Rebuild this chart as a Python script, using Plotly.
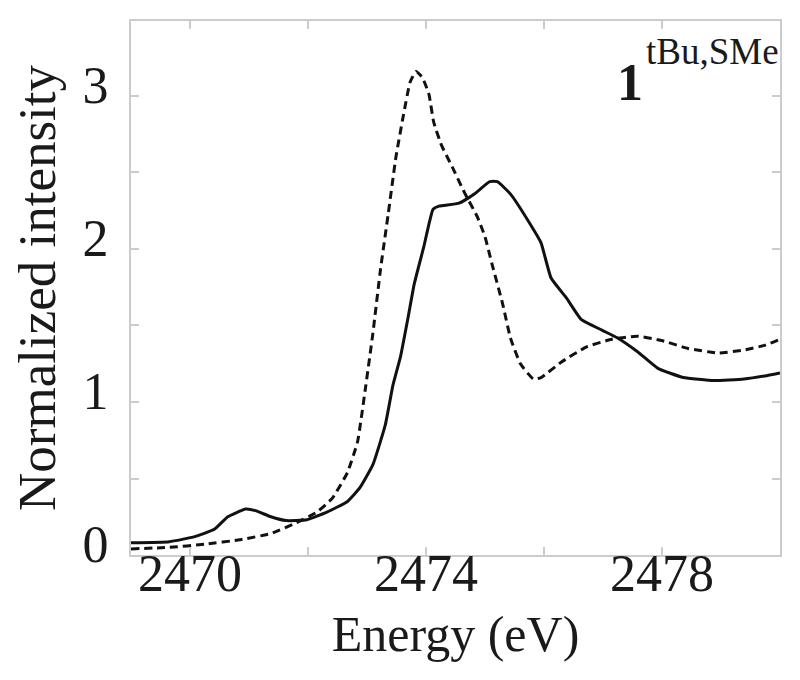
import plotly.graph_objects as go

# Solid curve (energy in eV, normalized intensity)
solid_x = [2469.0, 2469.65, 2470.08, 2470.42, 2470.64, 2470.94, 2471.11, 2471.37, 2471.63, 2471.98,
           2472.32, 2472.67, 2472.88, 2473.1, 2473.31, 2473.44, 2473.57, 2473.70, 2473.8, 2473.96,
           2474.12, 2474.22, 2474.56, 2474.82, 2475.08, 2475.21, 2475.43, 2475.77, 2475.95, 2476.12,
           2476.38, 2476.63, 2476.98, 2477.24, 2477.58, 2477.93, 2478.36, 2478.88, 2479.39, 2479.74, 2480.0]
solid_y = [0.08, 0.087, 0.12, 0.17, 0.25, 0.30, 0.29, 0.25, 0.225, 0.23,
           0.28, 0.35, 0.44, 0.59, 0.85, 1.11, 1.30, 1.56, 1.77, 2.01,
           2.26, 2.28, 2.30, 2.36, 2.44, 2.44, 2.36, 2.16, 2.04, 1.81,
           1.68, 1.54, 1.47, 1.42, 1.33, 1.22, 1.16, 1.14, 1.15, 1.17, 1.19]

# Dashed curve
dash_x = [2469.0, 2469.65, 2470.25, 2470.85, 2471.37, 2471.8, 2472.15, 2472.41, 2472.67, 2472.84,
          2472.97, 2473.1, 2473.23, 2473.36, 2473.49, 2473.62, 2473.73, 2473.83, 2473.94, 2474.05,
          2474.13, 2474.26, 2474.44, 2474.65, 2474.87, 2475.0, 2475.12, 2475.3, 2475.43, 2475.6,
          2475.82, 2475.95, 2476.29, 2476.72, 2477.15, 2477.58, 2478.01, 2478.44, 2478.96, 2479.39,
          2479.74, 2480.0]
dash_y = [0.04, 0.05, 0.07, 0.10, 0.14, 0.21, 0.28, 0.37, 0.54, 0.74,
          1.08, 1.45, 1.87, 2.23, 2.60, 2.88, 3.09, 3.16, 3.12, 3.01,
          2.83, 2.68, 2.54, 2.37, 2.21, 2.08, 1.90, 1.64, 1.42, 1.25,
          1.15, 1.16, 1.26, 1.36, 1.41, 1.43, 1.40, 1.35, 1.32, 1.34,
          1.37, 1.41]

x_tickvals = [2470, 2474, 2478]
x_ticktext = ["2470", "2474", "2478"]
y_tickvals = [0, 1, 2, 3]
y_ticktext = ["0", "1", "2", "3"]

FONT = "Liberation Serif"
INK = "#1a1a1a"
FRAME = "#cccccc"

fig = go.Figure()
fig.add_trace(go.Scatter(x=solid_x, y=solid_y, mode="lines",
                         line=dict(color="#111111", width=3, shape="spline", smoothing=0.4),
                         showlegend=False))
fig.add_trace(go.Scatter(x=dash_x, y=dash_y, mode="lines",
                         line=dict(color="#111111", width=3, dash="8px,5px", shape="spline", smoothing=0.4),
                         showlegend=False))

axis_common = dict(showgrid=False, zeroline=False, showline=True, linecolor=FRAME, linewidth=2,
                   mirror="ticks", ticks="inside", ticklen=8, tickwidth=1.5, tickcolor=FRAME,
                   tickfont=dict(family=FONT, size=52, color=INK))

fig.update_xaxes(range=[2469, 2480], tickmode="array", tickvals=x_tickvals, ticktext=x_ticktext,
                 minor=dict(ticks="inside", tick0=2470, dtick=2, ticklen=8, tickwidth=1.5,
                            tickcolor=FRAME, showgrid=False),
                 title=dict(text="Energy (eV)", font=dict(family=FONT, size=50, color=INK), standoff=15),
                 ticklabelstandoff=-28, **axis_common)
fig.update_yaxes(range=[0, 3.49], tickmode="array", tickvals=y_tickvals, ticktext=y_ticktext,
                 minor=dict(ticks="inside", tick0=0, dtick=0.5, ticklen=8, tickwidth=1.5,
                            tickcolor=FRAME, showgrid=False),
                 title=dict(text="Normalized intensity", font=dict(family=FONT, size=53, color=INK), standoff=12),
                 ticklabelstandoff=10, ticklabelshift=-11, **axis_common)

fig.add_annotation(xref="paper", yref="paper", x=0.769, y=0.884, xanchor="center", yanchor="middle",
                   text="<b>1</b>", showarrow=False,
                   font=dict(family=FONT, size=52, color=INK))
fig.add_annotation(xref="paper", yref="paper", x=1.0, y=0.942, xanchor="right", yanchor="middle",
                   text="tBu,SMe", showarrow=False, borderpad=0,
                   font=dict(family=FONT, size=37, color=INK))

fig.update_layout(width=792, height=672, margin=dict(l=123, r=20, t=11, b=125),
                  paper_bgcolor="white", plot_bgcolor="white")

fig.write_html("out.html")
